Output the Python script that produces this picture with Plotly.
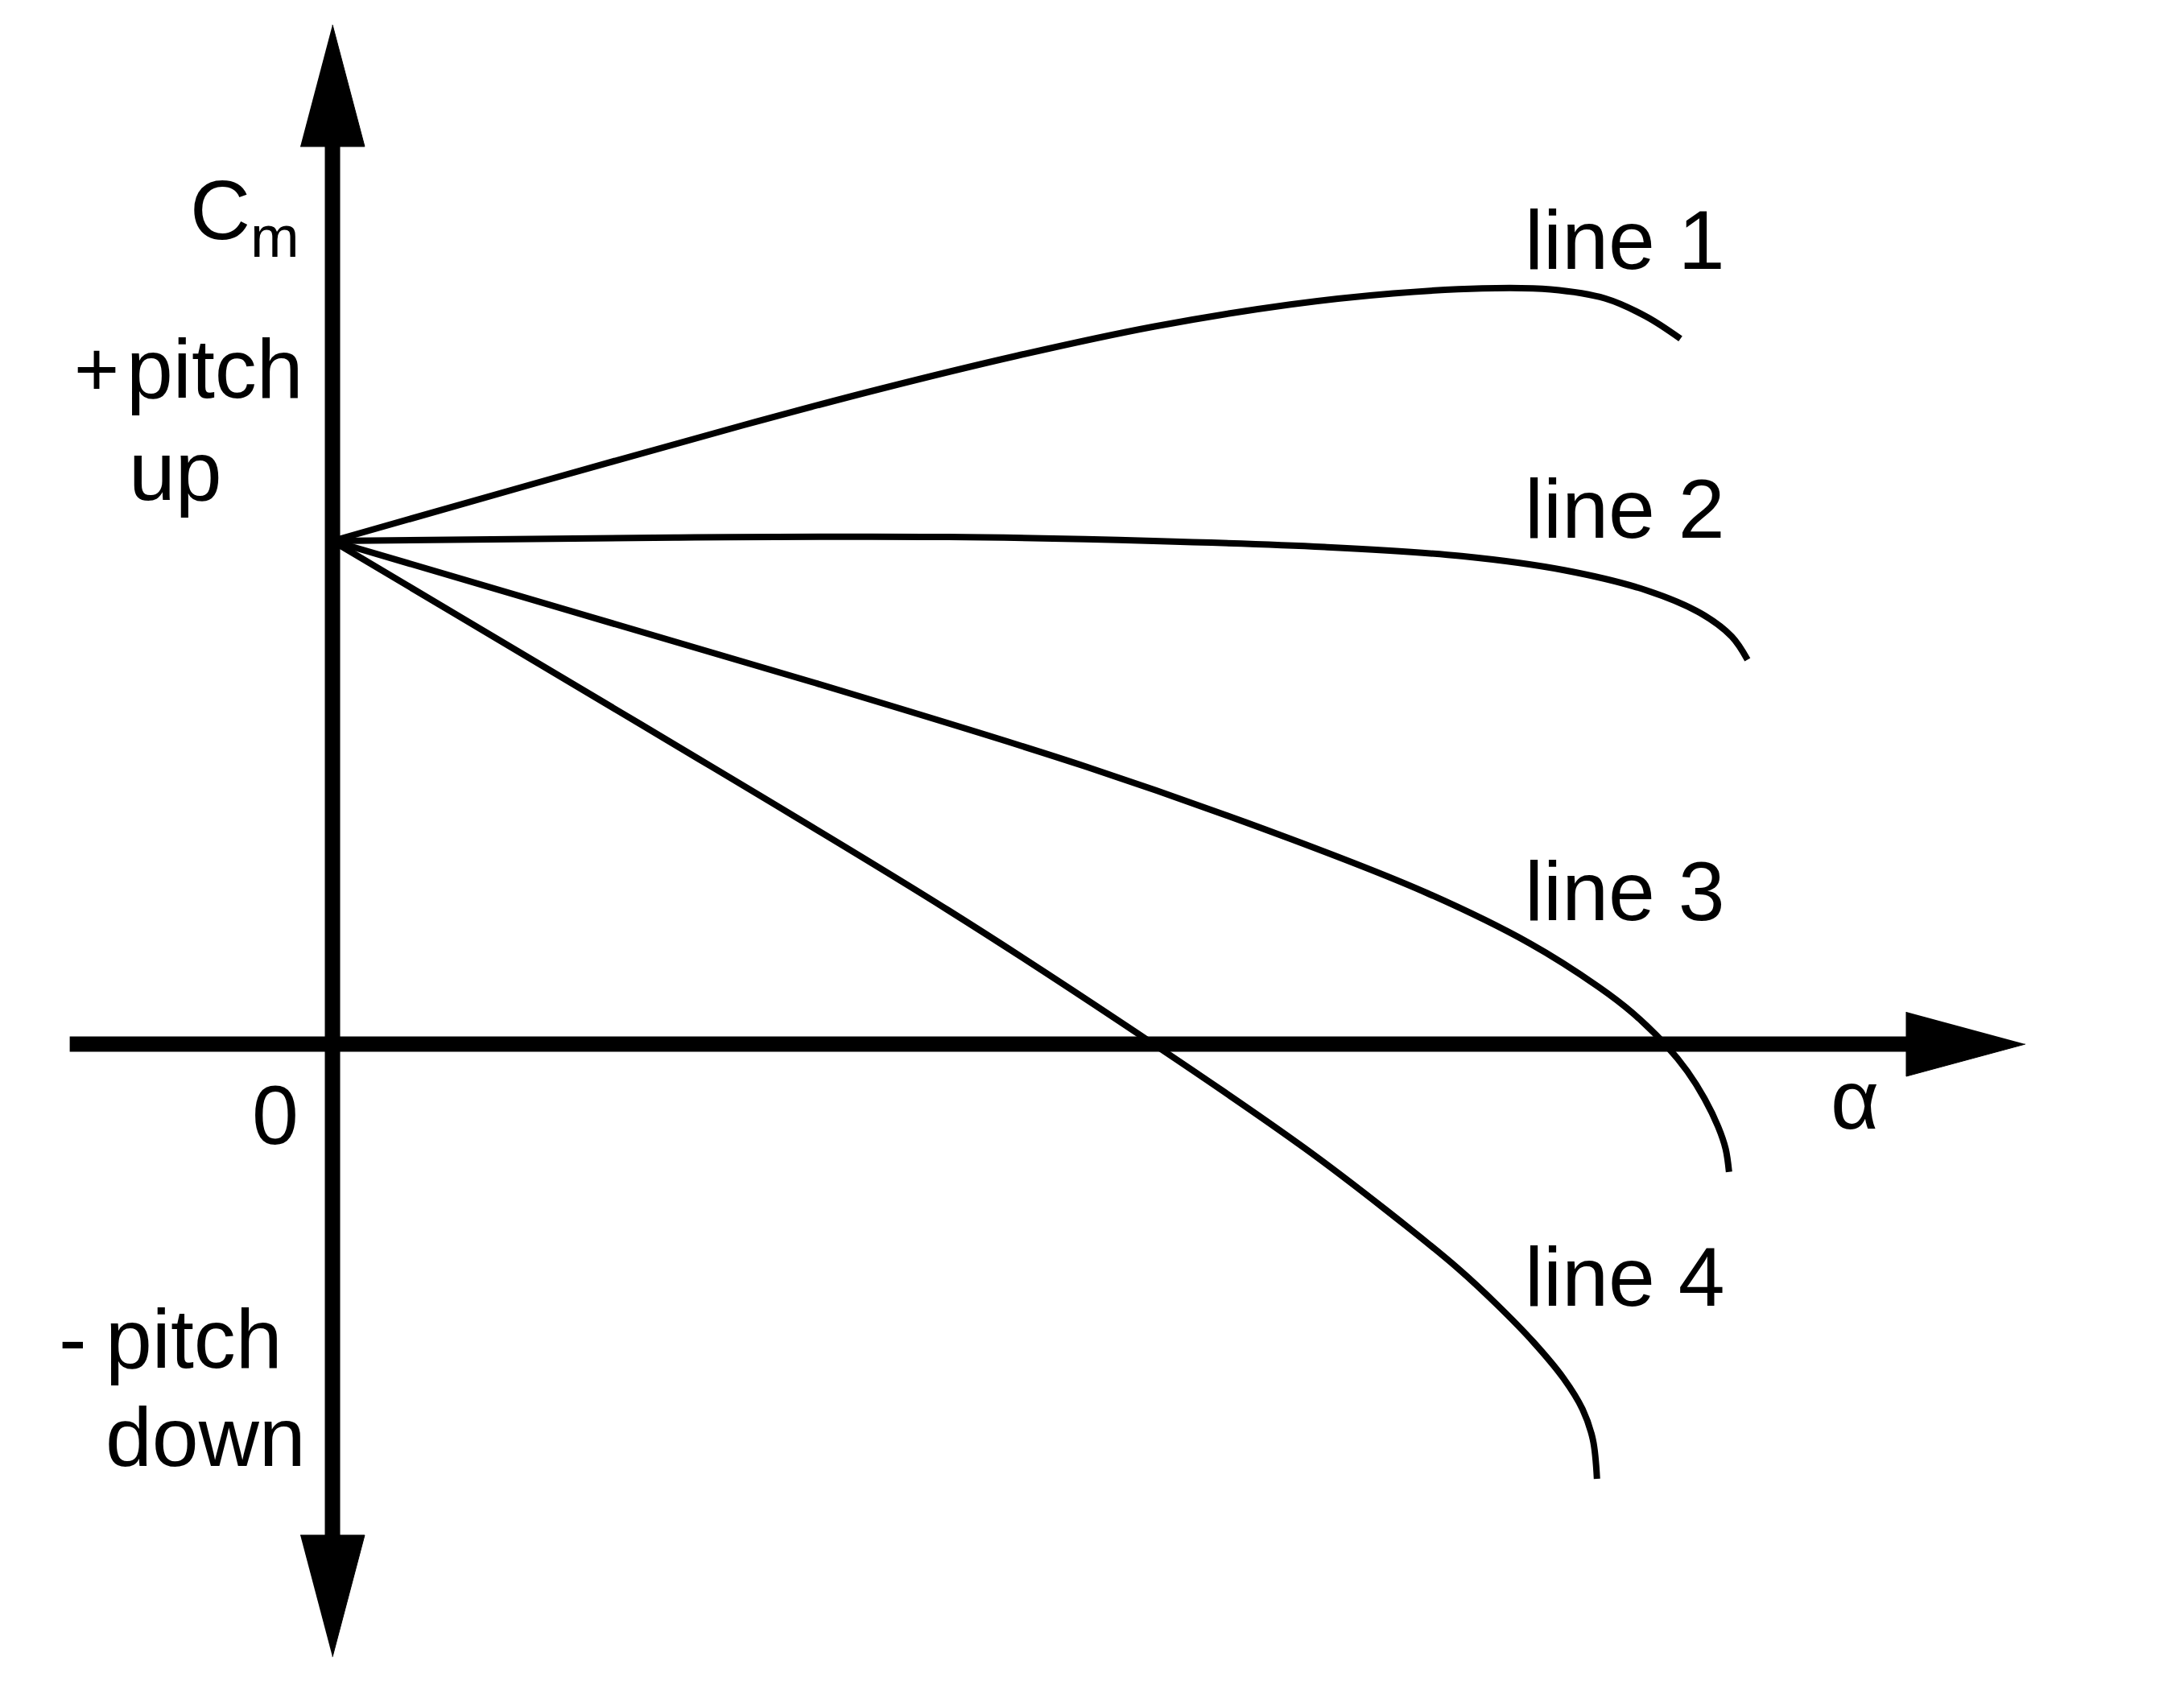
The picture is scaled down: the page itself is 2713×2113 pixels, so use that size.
import plotly.graph_objects as go

# ---- data (alpha, Cm) ----
line1_alpha = [0, 3.0, 6.0, 8.0, 10.0, 12.0, 14.0, 15.5, 16.8, 17.8, 18.6, 19.2, 19.7]
line1_cm = [5.0, 5.58, 6.15, 6.51, 6.84, 7.13, 7.35, 7.46, 7.51, 7.50, 7.41, 7.23, 7.01]

line2_alpha = [0, 5.0, 9.0, 12.0, 14.5, 16.5, 18.0, 19.2, 20.0, 20.45, 20.68]
line2_cm = [5.0, 5.035, 5.04, 5.0, 4.94, 4.85, 4.71, 4.51, 4.28, 4.05, 3.82]

line3_alpha = [0, 7.0, 11.0, 14.0, 16.0, 17.5, 18.5, 19.0, 19.5, 19.8, 20.05, 20.25, 20.36, 20.41]
line3_cm = [5.0, 3.6, 2.76, 2.04, 1.50, 1.0, 0.57, 0.31, -0.02, -0.27, -0.54, -0.82, -1.04, -1.27]

line4_alpha = [0, 4.5, 9.0, 12.0, 14.2, 15.4, 16.45, 17.02, 17.55, 17.99, 18.27, 18.42, 18.48]
line4_cm = [5.0, 3.18, 1.33, 0.0, -1.03, -1.65, -2.23, -2.59, -2.96, -3.32, -3.63, -3.93, -4.32]

series_names = ["line 1", "line 2", "line 3", "line 4"]
series_alpha = [line1_alpha, line2_alpha, line3_alpha, line4_alpha]
series_cm = [line1_cm, line2_cm, line3_cm, line4_cm]
label_alpha = [17.4, 17.4, 17.4, 17.4]
label_cm = [7.99, 5.32, 1.52, -2.31]

# axis extents (data units)
x_axis_start, x_axis_tip = -3.84, 24.74
y_axis_bottom_tip, y_axis_top_tip = -6.09, 10.13
x_head_len, x_head_half = 1.74, 0.32
y_head_len, y_head_half = 1.21, 0.47

FONT = "Liberation Sans, Arial, sans-serif"
FS = 104

fig = go.Figure()

for a, c, n in zip(series_alpha, series_cm, series_names):
    fig.add_trace(go.Scatter(x=a, y=c, mode="lines", name=n,
                             line=dict(color="black", width=8, shape="spline", smoothing=1.0),
                             hoverinfo="skip", showlegend=False))

# arrow heads
heads = [
    ([x_axis_tip - x_head_len, x_axis_tip - x_head_len, x_axis_tip],
     [x_head_half, -x_head_half, 0]),
    ([-y_head_half, y_head_half, 0],
     [y_axis_top_tip - y_head_len, y_axis_top_tip - y_head_len, y_axis_top_tip]),
    ([-y_head_half, y_head_half, 0],
     [y_axis_bottom_tip + y_head_len, y_axis_bottom_tip + y_head_len, y_axis_bottom_tip]),
]
for hx, hy in heads:
    fig.add_trace(go.Scatter(x=hx, y=hy, mode="lines", fill="toself", fillcolor="black",
                             line=dict(color="black", width=1), hoverinfo="skip", showlegend=False))

shapes = [
    dict(type="line", xref="x", yref="y", x0=x_axis_start, y0=0, x1=x_axis_tip - x_head_len + 0.05, y1=0,
         line=dict(color="black", width=19), layer="below"),
    dict(type="line", xref="x", yref="y", x0=0, y0=y_axis_bottom_tip + y_head_len - 0.05, x1=0,
         y1=y_axis_top_tip - y_head_len + 0.05, line=dict(color="black", width=19), layer="below"),
]

ann = []
for n, xa, ya in zip(series_names, label_alpha, label_cm):
    ann.append(dict(x=xa, y=ya, text=n, xanchor="left", yanchor="middle", showarrow=False,
                    font=dict(family=FONT, size=FS, color="black")))

def txt(x, y, t, xanchor="left", size=FS):
    ann.append(dict(x=x, y=y, text=t, xanchor=xanchor, yanchor="middle", showarrow=False,
                    font=dict(family=FONT, size=size, color="black")))

txt(-0.46, 8.23, "C<sub>m</sub>", "right")
txt(-3.45, 6.71, "+", "center", 96)
txt(-3.03, 6.71, "pitch")
txt(-3.0, 5.70, "up")
txt(-3.8, -2.93, "-", "center")
txt(-3.34, -2.93, "pitch")
txt(-3.34, -3.90, "down")
txt(-0.84, -0.70, "0", "center")
txt(22.25, -0.55, "α", "center")

# page body has an 8px margin: the figure occupies screen px 8..2705 / 8..2105
fig.update_layout(
    width=2697, height=2097,
    margin=dict(l=0, r=0, t=0, b=0),
    paper_bgcolor="white", plot_bgcolor="white",
    xaxis=dict(range=[-4.765, 26.965], visible=False, fixedrange=True),
    yaxis=dict(range=[-6.464, 10.312], visible=False, fixedrange=True),
    shapes=shapes, annotations=ann, showlegend=False,
)

fig.write_html("out.html", config={"displayModeBar": False})
